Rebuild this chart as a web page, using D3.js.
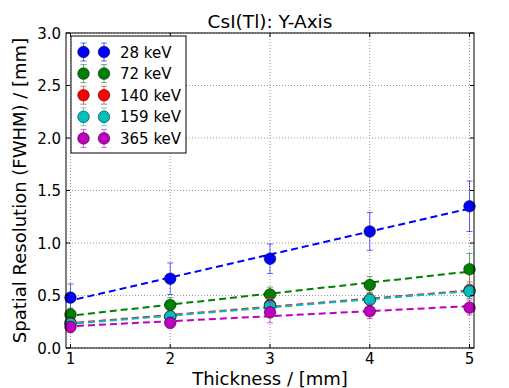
<!DOCTYPE html>
<html>
<head>
<meta charset="utf-8">
<script src="https://cdn.jsdelivr.net/npm/d3@7"></script>
<style>
  body { margin: 0; background: #fff; }
  text { font-family: "DejaVu Sans", sans-serif; }
</style>
</head>
<body>
<script>
const width = 509,
    height = 388

const margin = { top: 33, right: 35, bottom: 40, left: 66 }

// data
const thickness = [1, 2, 3, 4, 5]
const energies = ["28 keV", "72 keV", "140 keV", "159 keV", "365 keV"]
const colors = ["#0000ff", "#008000", "#ff0000", "#00bfbf", "#bf00bf"]
const res28 = [0.48, 0.66, 0.85, 1.11, 1.35]
const res72 = [0.32, 0.41, 0.51, 0.60, 0.75]
const res140 = [0.24, 0.30, 0.41, 0.46, 0.55]
const res159 = [0.23, 0.30, 0.40, 0.46, 0.54]
const res365 = [0.20, 0.24, 0.34, 0.35, 0.385]
const err28 = [0.13, 0.15, 0.14, 0.18, 0.24]
const err72 = [0.06, 0.07, 0.07, 0.08, 0.15]
const err140 = [0.05, 0.05, 0.07, 0.07, 0.08]
const err159 = [0.05, 0.05, 0.07, 0.06, 0.07]
const err365 = [0.05, 0.05, 0.10, 0.07, 0.07]
const xTicks = [1, 2, 3, 4, 5]
const yTicks = [0, 0.5, 1, 1.5, 2, 2.5, 3]

const series = [
    { name: energies[0], color: colors[0], y: res28, e: err28 },
    { name: energies[1], color: colors[1], y: res72, e: err72 },
    { name: energies[2], color: colors[2], y: res140, e: err140 },
    { name: energies[3], color: colors[3], y: res159, e: err159 },
    { name: energies[4], color: colors[4], y: res365, e: err365 }
]

const svg = d3.select("body")
    .append("svg")
    .attr("width", width)
    .attr("height", height)

const x = d3.scaleLinear()
    .domain([0.955, 5.045])
    .range([margin.left, width - margin.right])

const y = d3.scaleLinear()
    .domain([0, 3])
    .range([height - margin.bottom, margin.top])

const x0 = x.range()[0], x1 = x.range()[1]
const y0 = y.range()[0], y1 = y.range()[1]

// grid
svg.append("g")
    .selectAll("line")
    .data(xTicks)
    .join("line")
    .attr("x1", d => x(d)).attr("x2", d => x(d))
    .attr("y1", y1).attr("y2", y0)
    .attr("stroke", "#999").attr("stroke-dasharray", "1,2")
svg.append("g")
    .selectAll("line")
    .data(yTicks)
    .join("line")
    .attr("x1", x0).attr("x2", x1)
    .attr("y1", d => y(d)).attr("y2", d => y(d))
    .attr("stroke", "#999").attr("stroke-dasharray", "1,2")

const plot = svg.append("g")

svg.append("clipPath").attr("id", "clip")
    .append("rect")
    .attr("x", x0).attr("y", y1)
    .attr("width", x1 - x0).attr("height", y0 - y1)

// linear fit lines
series.forEach(s => {
    const mx = d3.mean(thickness), my = d3.mean(s.y)
    let sxy = 0, sxx = 0
    thickness.forEach((t, i) => {
        sxy += (t - mx) * (s.y[i] - my)
        sxx += (t - mx) * (t - mx)
    })
    const slope = sxy / sxx
    const icpt = my - slope * mx
    const dom = x.domain()
    plot.append("line")
        .attr("clip-path", "url(#clip)")
        .attr("x1", x(dom[0])).attr("y1", y(icpt + slope * dom[0]))
        .attr("x2", x(dom[1])).attr("y2", y(icpt + slope * dom[1]))
        .attr("stroke", s.color)
        .attr("stroke-width", 2)
        .attr("stroke-dasharray", "7,4")
})

// error bars and markers
series.forEach(s => {
    const g = plot.append("g")
    const pts = thickness.map((t, i) => ({ t: t, v: s.y[i], e: s.e[i] }))
    g.selectAll(".eb")
        .data(pts)
        .join("line")
        .attr("x1", d => x(d.t)).attr("x2", d => x(d.t))
        .attr("y1", d => y(d.v - d.e)).attr("y2", d => y(d.v + d.e))
        .attr("stroke", s.color).attr("stroke-opacity", 0.6)
    g.selectAll(".cap")
        .data(pts.flatMap(d => [d.v - d.e, d.v + d.e].map(v => ({ t: d.t, v: v }))))
        .join("line")
        .attr("x1", d => x(d.t) - 3).attr("x2", d => x(d.t) + 3)
        .attr("y1", d => y(d.v)).attr("y2", d => y(d.v))
        .attr("stroke", s.color).attr("stroke-opacity", 0.6)
    g.selectAll("circle")
        .data(pts)
        .join("circle")
        .attr("cx", d => x(d.t)).attr("cy", d => y(d.v))
        .attr("r", 5.8)
        .attr("fill", s.color)
        .attr("stroke", "#000").attr("stroke-width", 0.5)
})

// frame
svg.append("rect")
    .attr("x", x0).attr("y", y1)
    .attr("width", x1 - x0).attr("height", y0 - y1)
    .attr("fill", "none").attr("stroke", "#000")

// inward ticks
xTicks.forEach(t => {
    svg.append("line").attr("x1", x(t)).attr("x2", x(t)).attr("y1", y0).attr("y2", y0 - 4).attr("stroke", "#000")
    svg.append("line").attr("x1", x(t)).attr("x2", x(t)).attr("y1", y1).attr("y2", y1 + 4).attr("stroke", "#000")
})
yTicks.forEach(t => {
    svg.append("line").attr("x1", x0).attr("x2", x0 + 4).attr("y1", y(t)).attr("y2", y(t)).attr("stroke", "#000")
    svg.append("line").attr("x1", x1).attr("x2", x1 - 4).attr("y1", y(t)).attr("y2", y(t)).attr("stroke", "#000")
})

svg.append("g")
    .selectAll("text")
    .data(xTicks)
    .join("text")
    .attr("x", d => x(d)).attr("y", 364)
    .attr("text-anchor", "middle")
    .attr("font-size", 15)
    .text(d => d)
svg.append("g")
    .selectAll("text")
    .data(yTicks)
    .join("text")
    .attr("x", x0 - 5).attr("y", d => y(d) + 5.5)
    .attr("text-anchor", "end")
    .attr("font-size", 15)
    .text(d => d.toFixed(1))

// labels
svg.append("text")
    .attr("x", (x0 + x1) / 2).attr("y", 28)
    .attr("text-anchor", "middle")
    .attr("font-size", 18.5)
    .text("CsI(Tl): Y-Axis")
svg.append("text")
    .attr("x", (x0 + x1) / 2).attr("y", 385)
    .attr("text-anchor", "middle")
    .attr("font-size", 18)
    .text("Thickness / [mm]")
svg.append("text")
    .attr("transform", `translate(26, ${(y0 + y1) / 2}) rotate(-90)`)
    .attr("text-anchor", "middle")
    .attr("font-size", 18)
    .text("Spatial Resolution (FWHM) / [mm]")

// legend
const leg = svg.append("g")
leg.append("rect")
    .attr("x", 71).attr("y", 36)
    .attr("width", 115).attr("height", 117)
    .attr("fill", "#fff").attr("stroke", "#000")
series.forEach((s, i) => {
    const ly = 52 + i * 21.6
    ;[83.5, 104].forEach(lx => {
        leg.append("line").attr("x1", lx).attr("x2", lx).attr("y1", ly - 9).attr("y2", ly + 9)
            .attr("stroke", s.color).attr("stroke-opacity", 0.6)
        leg.append("line").attr("x1", lx - 3).attr("x2", lx + 3).attr("y1", ly - 9).attr("y2", ly - 9)
            .attr("stroke", s.color).attr("stroke-opacity", 0.6)
        leg.append("line").attr("x1", lx - 3).attr("x2", lx + 3).attr("y1", ly + 9).attr("y2", ly + 9)
            .attr("stroke", s.color).attr("stroke-opacity", 0.6)
        leg.append("circle").attr("cx", lx).attr("cy", ly).attr("r", 5.8)
            .attr("fill", s.color).attr("stroke", "#000").attr("stroke-width", 0.5)
    })
    leg.append("text")
        .attr("x", 120).attr("y", ly + 5.5)
        .attr("font-size", 15)
        .text(s.name)
})
</script>
</body>
</html>
